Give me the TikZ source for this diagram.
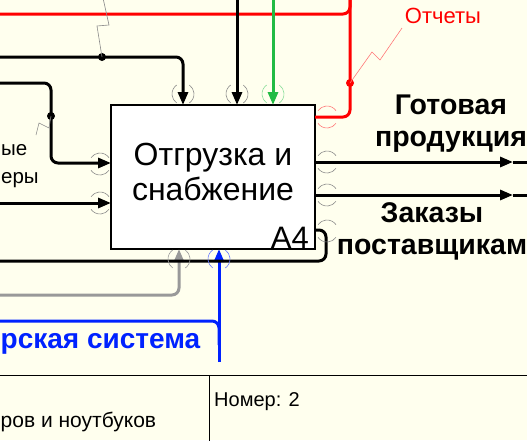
\documentclass[tikz,border=0pt]{standalone}
\usepackage{fontspec}
\setmainfont{Liberation Sans}
\usetikzlibrary{arrows.meta}
\definecolor{bg}{HTML}{FFFFEE}
\definecolor{idred}{HTML}{FF0000}
\definecolor{idredl}{HTML}{FF7777}
\definecolor{idgreen}{HTML}{22BB44}
\definecolor{idgreenl}{HTML}{88DD99}
\definecolor{idblue}{HTML}{0022FF}
\definecolor{idbluel}{HTML}{6677FF}
\definecolor{idgray}{HTML}{999999}
\definecolor{tun}{HTML}{8A8A8A}
\begin{document}
\begin{tikzpicture}[x=1pt,y=-1pt,
  flow/.style={line width=3pt, rounded corners=7pt},
  tip/.style={-{Triangle[length=13pt,width=10pt]}},
  thinline/.style={line width=0.6pt},
  vtun/.pic={\draw[thinline] (125:11pt) arc[start angle=125,end angle=235,radius=11pt];
             \draw[thinline] (-55:11pt) arc[start angle=-55,end angle=55,radius=11pt];},
  htun/.pic={\draw[thinline] (35:11pt) arc[start angle=35,end angle=145,radius=11pt];
             \draw[thinline] (215:11pt) arc[start angle=215,end angle=325,radius=11pt];},
  dotmark/.style={circle, fill, inner sep=0pt, minimum size=8pt},
  lbl/.style={font=\fontsize{28.5}{32}\selectfont\bfseries, align=center, inner sep=0pt},
  small/.style={font=\fontsize{20}{24}\selectfont, inner sep=0pt}]
\fill[bg] (0,0) rectangle (527,440);
\useasboundingbox (0,0) rectangle (527,440);
\clip (0,0) rectangle (527,440);

% box
\node[draw, fill=white, line width=1.3pt, minimum width=204pt, minimum height=144pt,
      anchor=north west, inner sep=0pt, outer sep=0pt] (box) at (111,105) {};
\node[font=\fontsize{32}{35}\selectfont, align=center] (title) at (213,172) {Отгрузка и\\снабжение};
\node[anchor=south east, font=\fontsize{31}{31}\selectfont, inner sep=1pt] (num) at (310,250) {A4};

% port coordinates
\coordinate (t1) at (183,105);
\coordinate (t2) at (237,105);
\coordinate (t3) at (273,105);
\coordinate (l1) at (111,163);
\coordinate (l2) at (111,203);
\coordinate (r0) at (315,117);
\coordinate (r1) at (315,162);
\coordinate (r2) at (315,195);
\coordinate (r3) at (315,230);
\coordinate (b1) at (179,249);
\coordinate (b2) at (219,249);
\coordinate (e1) at (513,162);
\coordinate (e2) at (513,195);

% red output
\draw[flow, idred] (0,14) -| (350,-5);
\draw[flow, idred] (350,-5) |- (r0);
\node[dotmark, text=idred, fill=idred] (rdot) at (350,83) {};
\draw[thinline, idredl] (rdot.center) -- (372,52) -- (380,60) -- (402,28);
\node[font=\fontsize{22}{26}\selectfont, text=idred, inner sep=0pt] (rep) at (443,16) {Отчеты};

% controls
\draw[flow, tip] (0,57) -| (t1);
\node[dotmark] (kdot) at (102,57) {};
\draw[thinline, tun] (kdot.center) -- (97,26) -- (109,25) -- (103,-2);
\draw[flow, tip] (237,-5) -- (t2);
\draw[flow, tip, idgreen] (273,-5) -- (t3);

% inputs
\draw[flow, tip] (0,83) -| (51,130) |- (l1);
\node[dotmark] (idot) at (51,116) {};
\draw[thinline, tun] (idot.center) -- (49,128) -- (39,123) -- (36,135);
\draw[flow, tip] (0,203) -- (l2);
\node[anchor=west, font=\fontsize{20.5}{24}\selectfont, inner sep=0pt] (in1) at (1,150) {ые};
\node[anchor=west, font=\fontsize{20.5}{24}\selectfont, inner sep=0pt] (in2) at (1,180) {еры};

% outputs
\draw[flow, tip] (r1) -- (e1);
\draw[flow] (e1) -- (530,162);
\draw[flow, tip] (r2) -- (e2);
\draw[flow] (e2) -- (530,195);
\node[lbl] (out1) at (451,124) {Готовая\\продукция};
\node[lbl] (out2) at (432,231) {Заказы\\поставщикам};

% mechanisms
\draw[flow, tip, idgray] (-5,295) -| (b1);
\draw[flow, idblue] (-5,321) -| (219,345);
\draw[flow, tip, idblue] (219,362) -- (b2);
\node[anchor=west, font=\fontsize{28}{30}\selectfont\bfseries, text=idblue, inner sep=0pt] (mech) at (0.5,344) {рская система};

% feedback
\draw[flow] (r3) -| (326,261) -- (-5,261);

% tunnels
\pic[tun] at (183,94) {vtun};
\pic[tun] at (237,94) {vtun};
\pic[idgreenl] at (273,94) {vtun};
\pic[idgray] at (179,259) {vtun};
\pic[idbluel] at (219,259) {vtun};
\pic[tun] at (100,164) {htun};
\pic[tun] at (100,203) {htun};
\pic[idredl] at (327,117) {htun};
\pic[tun] at (327,162) {htun};
\pic[tun] at (327,195) {htun};
\pic[tun] at (327,231) {htun};

% frame
\draw[line width=1pt] (-5,375) -- (530,375);
\draw[line width=1pt] (209,375) -- (209,445);
\node[small, anchor=west] (nr) at (214,402) {Номер: 2};
\node[anchor=west, font=\fontsize{21}{24}\selectfont, inner sep=0pt] (ttl) at (0.5,422) {ров и ноутбуков};
\end{tikzpicture}
\end{document}
